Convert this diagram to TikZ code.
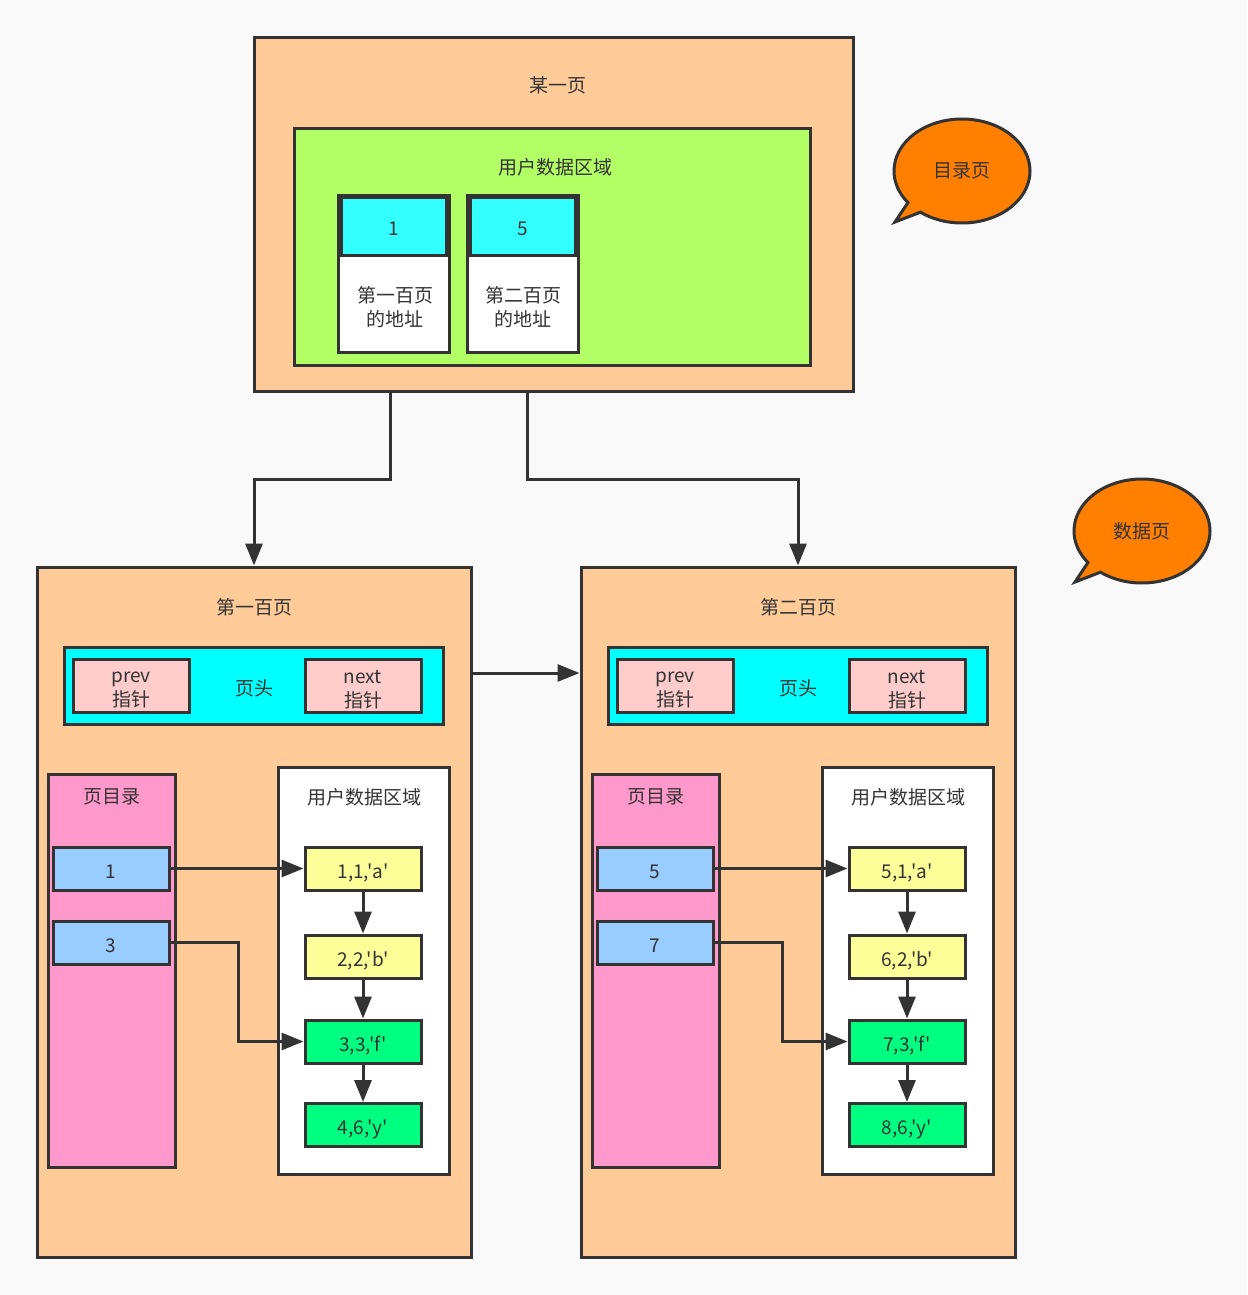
\documentclass[tikz,border=0pt]{standalone}
\usepackage{fontspec}
\newfontfamily\cjk{Noto Sans CJK SC}
\usetikzlibrary{arrows.meta,shapes.callouts}
\definecolor{ink}{HTML}{333333}
\definecolor{peach}{HTML}{FFCC99}
\definecolor{lime}{HTML}{B3FF66}
\definecolor{aqua}{HTML}{00FFFF}
\definecolor{aqualt}{HTML}{33FFFF}
\definecolor{rose}{HTML}{FFCCCC}
\definecolor{pinkdir}{HTML}{FF99CC}
\definecolor{sky}{HTML}{99CCFF}
\definecolor{lemon}{HTML}{FFFF99}
\definecolor{mint}{HTML}{00FF80}
\definecolor{tangerine}{HTML}{FF8000}
\definecolor{paper}{HTML}{F9F9F9}

\tikzset{
  every node/.style={font=\cjk\fontsize{19}{24}\selectfont, text=ink, align=center, inner sep=0pt},
  box/.style={draw=ink, line width=3pt, rectangle},
  cell/.style={box, minimum width=116pt, minimum height=43pt, text height=19pt, text depth=0pt},
  ptr/.style={box, fill=rose, minimum width=116pt, minimum height=53pt},
  arr/.style={draw=ink, line width=3pt, -{Triangle[length=22pt,width=17pt]}},
  bubble/.style={ellipse callout, draw=ink, line width=3pt, fill=tangerine, minimum width=136pt, minimum height=104pt},
}

\begin{document}
\begin{tikzpicture}[x=1pt,y=-1pt]
\fill[paper] (0,0) rectangle (1247,1295);
\useasboundingbox (0,0) rectangle (1247,1295);

% index page
\node[box, fill=peach, minimum width=599pt, minimum height=353pt] (top) at (553.5,214.5) {};
\node (topLbl) at (558,85) {某一页};
\node[box, fill=lime, minimum width=516pt, minimum height=236pt] (udata) at (552,247) {};
\node (udataLbl) at (555,167) {用户数据区域};
\node[box, fill=white, minimum width=111pt, minimum height=157pt] (slot1) at (393.5,273.5) {};
\node[cell, fill=aqualt, minimum width=105pt, minimum height=58pt] (key1) at (393.5,226) {1};
\node (addr1) at (395,307) {第一百页\\的地址};
\node[box, fill=white, minimum width=111pt, minimum height=157pt] (slot5) at (522.5,273.5) {};
\node[cell, fill=aqualt, minimum width=105pt, minimum height=58pt] (key5) at (522.5,226) {5};
\node (addr5) at (523,307) {第二百页\\的地址};

\node[bubble, callout absolute pointer={(895,222)}] (tipDir) at (962,171) {目录页};
\node[bubble, callout absolute pointer={(1075,582)}] (tipData) at (1142,531) {数据页};

% first data page
\node[box, fill=peach, minimum width=434pt, minimum height=690pt] (pageL) at (254,912) {};
\node (pageLLbl) at (254,607) {第一百页};
\node[box, fill=aqua, minimum width=379pt, minimum height=77pt] (hdrL) at (253.5,685.5) {};
\node (hdrLLbl) at (254,688) {页头};
\node[ptr] (prevL) at (131,685.5) {};
\node (prevLTxt) at (131,690) {prev\\指针};
\node[ptr] (nextL) at (363,685.5) {};
\node (nextLTxt) at (363,690) {next\\指针};
\node[box, fill=pinkdir, minimum width=127pt, minimum height=393pt] (dirL) at (111.5,970.5) {};
\node (dirLLbl) at (112,797) {页目录};
\node[cell, fill=sky] (slotL1) at (111,868.5) {1};
\node[cell, fill=sky] (slotL3) at (111,942.5) {3};
\node[box, fill=white, minimum width=171pt, minimum height=407pt] (recsL) at (363.5,970.5) {};
\node (recsLLbl) at (364,797) {用户数据区域};
\node[cell, fill=lemon] (recL1) at (363,868.5) {1,1,'a'};
\node[cell, fill=lemon] (recL2) at (363,956.5) {2,2,'b'};
\node[cell, fill=mint] (recL3) at (363,1041.5) {3,3,'f'};
\node[cell, fill=mint] (recL4) at (363,1125) {4,6,'y'};

% second data page
\node[box, fill=peach, minimum width=434pt, minimum height=690pt] (pageR) at (798,912) {};
\node (pageRLbl) at (798,607) {第二百页};
\node[box, fill=aqua, minimum width=379pt, minimum height=77pt] (hdrR) at (797.5,685.5) {};
\node (hdrRLbl) at (798,688) {页头};
\node[ptr] (prevR) at (675,685.5) {};
\node (prevRTxt) at (675,690) {prev\\指针};
\node[ptr] (nextR) at (907,685.5) {};
\node (nextRTxt) at (907,690) {next\\指针};
\node[box, fill=pinkdir, minimum width=127pt, minimum height=393pt] (dirR) at (655.5,970.5) {};
\node (dirRLbl) at (656,797) {页目录};
\node[cell, fill=sky] (slotR5) at (655,868.5) {5};
\node[cell, fill=sky] (slotR7) at (655,942.5) {7};
\node[box, fill=white, minimum width=171pt, minimum height=407pt] (recsR) at (907.5,970.5) {};
\node (recsRLbl) at (908,797) {用户数据区域};
\node[cell, fill=lemon] (recR1) at (907,868.5) {5,1,'a'};
\node[cell, fill=lemon] (recR2) at (907,956.5) {6,2,'b'};
\node[cell, fill=mint] (recR3) at (907,1041.5) {7,3,'f'};
\node[cell, fill=mint] (recR4) at (907,1125) {8,6,'y'};

% connectors
\draw[arr] ([xshift=-3.5pt]slot1.south |- top.south) -- ++(0,87) -| (pageL.north);
\draw[arr] ([xshift=4.5pt]slot5.south |- top.south) -- ++(0,87) -| (pageR.north);
\draw[arr] (pageL.east |- 0,673) -- (pageR.west |- 0,673);

\draw[arr] (slotL1.east) -- (recL1.west);
\draw[arr] (slotL3.east) -- ++(68,0) |- (recL3.west);
\draw[arr] (recL1) -- (recL2);
\draw[arr] (recL2) -- (recL3);
\draw[arr] (recL3) -- (recL4);

\draw[arr] (slotR5.east) -- (recR1.west);
\draw[arr] (slotR7.east) -- ++(68,0) |- (recR3.west);
\draw[arr] (recR1) -- (recR2);
\draw[arr] (recR2) -- (recR3);
\draw[arr] (recR3) -- (recR4);
\end{tikzpicture}
\end{document}
